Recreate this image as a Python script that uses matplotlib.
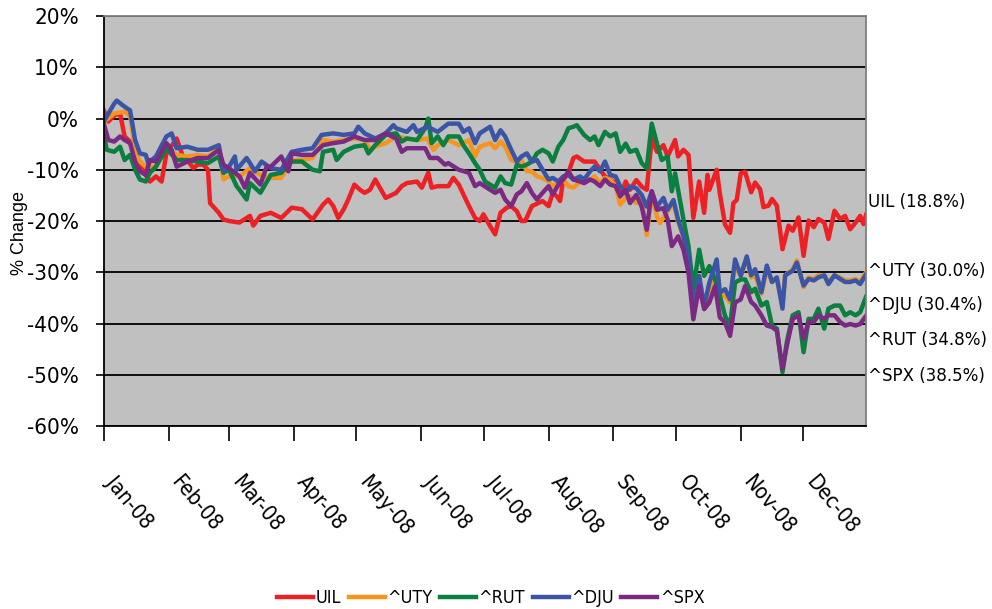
import numpy as np
import pandas as pd
import matplotlib
matplotlib.use("Agg")
import matplotlib.pyplot as plt
import matplotlib.dates as mdates
from matplotlib.font_manager import FontProperties
from matplotlib.transforms import ScaledTranslation

# condensed sans, close to the narrow face of the original
narrow = FontProperties(family='DejaVu Sans', stretch='condensed', size=15)
narrow_sm = FontProperties(family='DejaVu Sans', stretch='condensed', size=13.3)

# day offsets from 1 Jan 2008 and % change
days_uil = [0, 2.2, 5, 7.8, 10, 12.6, 15, 20.1, 22.1, 25, 27.7, 30, 34.9, 38.1, 40, 42.9, 45, 47.7, 49.9, 50.9,
            55.1, 57.3, 60, 65, 70, 71.6, 75, 80, 85, 90, 94.9, 100, 105, 107.5, 109.9, 112.3, 114.9, 117.1, 120,
            122.7, 124.9, 127.5, 130, 135, 140, 142.7, 145.1, 150, 152.3, 155.4, 157, 159.9, 165, 167.4, 170,
            174.9, 177.8, 180, 181.8, 185, 187.4, 190, 193, 195.1, 197.8, 200, 201.8, 205, 210.1, 213, 215, 217,
            218.5, 220, 222.5, 224.9, 226.5, 230, 235, 237.7, 240, 242.5, 245.1, 248.1, 249.9, 252, 255, 257.6,
            260, 262.4, 264.9, 268, 270, 273.6, 275, 277.6, 280, 282.3, 285.1, 287.5, 289.1, 290, 293.5, 295,
            297.5, 299.9, 301.5, 303.1, 305, 307.1, 310, 311.9, 314.3, 315.9, 318.3, 320, 322.3, 325, 327.9,
            329.9, 332.7, 335.1, 337.5, 340, 342.2, 345, 347, 349.9, 352.6, 355, 357.4, 360, 362.2, 363.8, 365]
uil = [1.6, -0.6, 0.6, 1.0, -3.5, -4.5, -7.4, -11.0, -12.3, -11.3, -12.3, -6.8, -3.9, -7.7, -8.1, -9.7, -9.0, -9.0,
       -10.0, -16.5, -18.4, -19.7, -20.0, -20.3, -19.0, -20.9, -19.0, -18.4, -19.4, -17.4, -17.7, -19.7, -16.8,
       -15.8, -17.1, -19.4, -17.7, -15.8, -12.9, -13.9, -14.5, -13.9, -11.9, -15.5, -14.5, -13.2, -12.6, -12.3,
       -13.5, -10.6, -13.5, -13.2, -13.2, -11.6, -12.9, -17.1, -19.4, -20.0, -18.7, -21.0, -22.6, -18.4, -17.4,
       -17.1, -18.1, -20.0, -20.0, -17.1, -16.1, -17.1, -14.5, -15.2, -16.1, -11.9, -10.6, -7.7, -7.4, -8.4,
       -8.4, -10.0, -11.3, -11.9, -12.6, -14.5, -12.3, -13.9, -12.0, -13.3, -13.9, -3.9, -6.5, -5.2, -7.4, -4.2,
       -7.4, -6.1, -7.1, -19.4, -12.3, -18.4, -11.0, -13.9, -10.0, -14.6, -20.7, -22.3, -16.5, -15.9, -10.7,
       -10.4, -14.4, -12.5, -13.8, -17.3, -17.0, -15.7, -17.0, -25.5, -20.9, -21.9, -19.3, -26.8, -19.9, -21.2,
       -19.6, -20.3, -23.5, -18.0, -19.6, -19.0, -21.6, -20.3, -19.0, -20.6, -18.8]

days_uty = [0, 3, 5, 10, 12.6, 15, 17.3, 20.1, 25, 30, 34.9, 40, 45, 49.9, 55.1, 57.3, 60, 65, 70, 75, 80, 85, 90,
            94.9, 100, 105, 109.9, 114.9, 120, 124.9, 127.5, 130, 135, 140, 145.1, 150, 155, 157.8, 159.9, 165,
            170, 174.9, 177.8, 180, 185, 187.4, 190, 192.2, 195.1, 197.8, 200, 202.6, 205, 207.4, 210.1, 213, 215,
            217.7, 220, 222.5, 224.9, 228.1, 230, 232.9, 235, 237.7, 240, 242.5, 245.1, 247.3, 249.9, 252, 255,
            257.6, 260, 262.4, 264.9, 266.4, 270, 272.8, 275, 277.6, 280, 282.3, 285.1, 287.5, 290, 293.5, 295,
            297.5, 299.9, 302.3, 305, 307.9, 310, 311.9, 314.9, 317.5, 320, 322.3, 325, 326.3, 329.9, 331.9,
            335.1, 337.5, 340, 342.2, 345, 347, 349.9, 352.6, 355, 357.4, 360, 362.2, 365]
uty = [-0.6, 0.3, 1.0, 1.3, 0.6, -6.1, -8.4, -9.4, -9.4, -5.5, -7.1, -7.4, -7.1, -7.4, -5.8, -11.9, -11.3, -11.3,
       -9.7, -11.0, -11.6, -11.6, -8.1, -8.1, -7.7, -4.2, -4.5, -4.2, -3.9, -4.2, -6.1, -5.5, -4.8, -3.5, -3.9,
       -4.2, -3.9, -6.1, -5.2, -4.2, -5.2, -4.2, -7.4, -5.5, -4.8, -5.8, -4.5, -5.5, -8.1, -8.4, -8.1, -10.3,
       -10.3, -11.3, -11.6, -12.3, -13.2, -12.6, -11.9, -13.2, -13.5, -12.3, -12.6, -11.9, -11.3, -12.6, -11.6,
       -11.9, -13.2, -16.8, -15.5, -15.2, -16.5, -15.5, -22.7, -14.9, -19.1, -20.4, -18.1, -16.5, -20.1, -23.3,
       -27.5, -37.2, -31.4, -36.6, -33.3, -28.8, -34.6, -34.6, -35.9, -28.8, -30.7, -27.5, -31.0, -30.6, -34.2,
       -29.4, -31.9, -31.3, -36.5, -30.6, -29.4, -27.7, -32.9, -31.0, -31.3, -30.6, -30.6, -31.9, -30.6, -31.0,
       -31.6, -31.6, -31.3, -31.9, -30.0]

days_rut = [0, 1.4, 5, 7.8, 10, 12.6, 15, 17.3, 20.1, 22.1, 25, 30, 34.9, 40, 45, 49.9, 55.1, 57.3, 60, 63.6, 65,
            68.4, 70, 75, 80, 85, 90, 94.9, 100, 103.5, 105, 109.9, 111.5, 114.9, 120, 124.9, 126.7, 130, 135,
            140, 142.7, 145.1, 150, 153.9, 155.4, 157, 159.9, 162.6, 165, 170, 172.2, 174.9, 177.8, 180, 182.6,
            185, 187.4, 190, 192.2, 195.1, 197.8, 200, 202.6, 205, 207.4, 210.1, 213, 215, 217.7, 220, 222.5,
            224.9, 226.5, 230, 232.9, 235, 236.9, 240, 242.5, 245.1, 247.3, 249.9, 252, 255, 257.6, 260, 262.4,
            264.9, 267.2, 270, 272, 273.6, 275, 277.6, 280, 282.3, 285.1, 287.5, 290, 292.7, 295, 297.5, 299.9,
            302.3, 305, 307.1, 310, 311.9, 314.9, 317.5, 320, 322.3, 325, 327.1, 329.9, 332.7, 335.1, 337.5, 340,
            342.2, 345, 347, 349.9, 352.6, 355, 357.4, 360, 362.2, 365]
rut = [-2.9, -6.1, -6.5, -5.5, -8.1, -7.1, -10.0, -11.9, -12.3, -10.6, -9.4, -5.8, -8.1, -8.1, -8.4, -8.7, -7.4,
       -10.6, -10.0, -13.2, -13.9, -15.8, -12.6, -14.5, -11.0, -10.6, -8.4, -8.4, -10.0, -10.3, -6.5, -6.1, -8.1,
       -6.5, -5.5, -5.2, -6.8, -5.2, -3.2, -2.9, -4.5, -3.9, -4.2, -1.9, 0.0, -4.8, -3.5, -5.2, -3.5, -3.5, -5.2,
       -6.8, -8.7, -10.0, -12.3, -12.9, -13.5, -11.3, -12.6, -12.9, -9.0, -9.4, -9.0, -8.4, -6.8, -6.1, -6.8,
       -8.4, -5.5, -4.2, -1.9, -1.6, -1.3, -3.2, -4.2, -3.5, -5.2, -2.6, -3.5, -2.9, -6.5, -4.9, -6.5, -6.1,
       -8.7, -9.7, -1.0, -4.9, -8.1, -7.4, -14.2, -10.7, -13.9, -19.7, -24.9, -33.3, -25.6, -30.7, -28.8, -31.4,
       -34.6, -38.5, -40.5, -32.0, -31.4, -31.4, -33.9, -33.2, -36.5, -35.8, -40.4, -41.0, -49.5, -43.6, -38.4,
       -37.8, -45.6, -39.1, -39.1, -37.1, -41.0, -37.1, -36.5, -36.5, -38.4, -37.8, -38.4, -37.8, -34.8]

days_dju = [0, 5, 6.2, 10, 12.6, 15, 17.3, 20.1, 21.3, 25, 30, 32.5, 34.9, 40, 45, 49.9, 55.1, 57.3, 60, 62.8,
            63.6, 68.4, 70, 72.4, 75.6, 80, 85, 90, 94.9, 100, 104.3, 109.9, 114.9, 120, 121.9, 124.9, 130, 135,
            138.7, 140, 145.1, 148.3, 150, 155, 159.9, 165, 170, 172.2, 174.9, 177.8, 180, 185, 187.4, 190,
            192.2, 195.1, 197.8, 200, 202.6, 205, 207.4, 210.1, 213, 215, 217.7, 220, 222.5, 224.9, 228.1, 230,
            232.9, 235, 237.7, 240, 242.5, 245.1, 247.3, 249.9, 252, 255, 257.6, 260, 262.4, 264.9, 268, 270,
            272.8, 275, 277.6, 280, 282.3, 285.1, 287.5, 290, 293.5, 295, 297.5, 299.9, 302.3, 305, 307.9, 310,
            311.9, 314.9, 317.5, 320, 322.3, 325, 326.3, 329.9, 331.9, 335.1, 337.5, 340, 342.2, 345, 347, 349.9,
            352.6, 355, 357.4, 360, 362.2, 365]
dju = [-0.6, 2.9, 3.5, 2.3, 1.6, -4.2, -6.8, -7.1, -8.7, -7.4, -3.5, -2.9, -5.8, -5.5, -6.1, -6.1, -5.2, -10.3,
       -9.4, -7.4, -10.0, -7.7, -8.7, -10.3, -8.4, -9.7, -10.0, -6.5, -6.1, -5.8, -3.2, -2.9, -3.2, -2.9, -1.6,
       -2.9, -3.9, -2.9, -1.3, -1.9, -2.6, -1.3, -2.6, -1.6, -2.6, -1.0, -1.0, -2.6, -1.9, -4.8, -2.9, -1.6, -4.2,
       -2.3, -3.5, -6.1, -8.4, -7.4, -6.8, -8.4, -8.1, -10.0, -11.9, -11.6, -12.3, -11.3, -11.0, -11.9, -11.3,
       -11.9, -10.3, -9.4, -10.3, -8.4, -11.0, -11.3, -13.2, -14.6, -13.3, -13.6, -14.9, -17.2, -14.2, -17.2,
       -15.5, -17.8, -15.9, -19.7, -23.0, -26.9, -37.2, -30.7, -36.6, -32.0, -27.5, -34.0, -33.3, -35.3, -27.5,
       -30.7, -26.9, -30.6, -29.4, -33.9, -28.7, -31.9, -31.0, -37.1, -30.6, -29.7, -28.1, -32.6, -31.3, -31.6,
       -31.0, -30.6, -32.3, -30.6, -31.3, -31.9, -31.9, -31.6, -32.3, -30.4]

days_spx = [0, 2.2, 5, 7.8, 10, 12.6, 15, 17.3, 20.1, 22.1, 25, 30, 32.5, 34.9, 40, 45, 49.9, 55.1, 57.3, 60, 65,
            67.6, 70, 75, 78, 80, 85, 88.4, 90, 94.9, 100, 105, 109.9, 114.9, 120, 124.9, 130, 135, 140, 142.7,
            145.1, 150, 153.9, 156.2, 159.9, 163.4, 165, 170, 174.9, 177.8, 180, 185, 187.4, 190, 192.2, 195.1,
            197.8, 200, 202.6, 205, 207.4, 210.1, 213, 215, 217.7, 220, 222.5, 224.9, 228.1, 230, 232.9, 235,
            237.7, 240, 242.5, 245.1, 247.3, 249.9, 252, 255, 257.6, 260, 262.4, 264.9, 268, 270, 272, 275, 277.6,
            280, 282.3, 285.1, 287.5, 290, 292.7, 295, 297.5, 299.9, 302.3, 305, 307.1, 310, 311.9, 314.9, 317.5,
            320, 322.3, 325, 327.1, 329.9, 332.7, 335.1, 337.5, 340, 342.2, 345, 347, 349.9, 352.6, 355, 357.4,
            360, 362.2, 365]
spx = [-1.0, -4.2, -4.5, -3.5, -4.2, -4.8, -8.4, -10.3, -11.0, -8.1, -8.4, -4.8, -6.1, -9.4, -8.4, -7.7, -7.7,
       -6.1, -9.0, -9.7, -11.3, -13.5, -10.6, -12.9, -9.4, -9.4, -7.4, -10.3, -6.8, -7.1, -7.1, -5.2, -4.8, -4.5,
       -3.5, -4.2, -4.2, -2.9, -3.9, -6.5, -5.8, -5.8, -5.8, -7.7, -7.7, -9.0, -8.7, -10.0, -10.6, -13.2, -12.6,
       -13.9, -14.5, -13.9, -15.8, -17.1, -14.8, -14.2, -12.6, -14.5, -15.8, -14.5, -13.2, -14.8, -12.9, -11.9,
       -10.3, -11.9, -12.3, -12.6, -11.9, -12.3, -13.2, -11.9, -12.9, -13.2, -15.2, -13.9, -16.5, -14.9, -17.2,
       -21.7, -14.2, -17.8, -17.5, -19.7, -24.9, -23.0, -25.6, -30.1, -39.2, -32.7, -37.2, -35.9, -32.7, -38.8,
       -39.8, -42.4, -35.9, -35.3, -32.7, -35.8, -36.5, -38.4, -40.4, -40.7, -41.4, -48.8, -44.3, -39.1, -38.4,
       -43.0, -39.7, -39.7, -38.4, -39.1, -38.4, -38.4, -39.7, -40.4, -40.1, -40.4, -40.1, -38.5]

names = ['UIL', '^UTY', '^RUT', '^DJU', '^SPX']
colors = ['#ED2024', '#F7941E', '#0A7F3F', '#3A55A6', '#7B2A83']
end_labels = ['UIL (18.8%)', '^UTY (30.0%)', '^DJU (30.4%)', '^RUT (34.8%)', '^SPX (38.5%)']
end_label_y = [-16.3, -29.7, -36.4, -43.2, -50.2]

start = pd.Timestamp('2008-01-01')


def to_dates(d):
    return start + pd.to_timedelta(np.array(d), unit='D')


series = [(days_uil, uil), (days_uty, uty), (days_rut, rut), (days_dju, dju), (days_spx, spx)]

fig = plt.figure(figsize=(9.92, 6.09), dpi=100)
ax = fig.add_axes([0.1046, 0.3005, 0.7684, 0.6732])
ax.set_facecolor('#C0C0C0')

for (d, v), name, c in zip(series, names, colors):
    ax.plot(to_dates(d), v, color=c, lw=3.2, label=name, solid_joinstyle='round')

ax.set_ylim(-60, 20)
ax.set_yticks(np.arange(-60, 21, 10))
ax.set_yticklabels(['%d%%' % t for t in np.arange(-60, 21, 10)], fontproperties=narrow)
for lab in ax.get_yticklabels():
    lab.set_fontsize(16)
ax.yaxis.grid(True, color='black', lw=1.3)
ax.set_axisbelow(True)

ax.set_xlim(start, pd.Timestamp('2008-12-31'))
ax.xaxis.set_major_locator(mdates.MonthLocator())
ax.xaxis.set_major_formatter(mdates.DateFormatter('%b-%y'))
ax.tick_params(axis='x', length=11, width=1.2, pad=22)
ax.tick_params(axis='y', length=6, width=1.2, pad=12)
for lab in ax.get_xticklabels():
    lab.set_fontproperties(narrow)
    lab.set_fontsize(15.5)
    lab.set_rotation(-50)
    lab.set_ha('left')
    lab.set_va('top')
    lab.set_rotation_mode('anchor')
    lab.set_transform(lab.get_transform() + ScaledTranslation(0.14, 0, fig.dpi_scale_trans))

for s in ['left', 'bottom']:
    ax.spines[s].set_color('black')
    ax.spines[s].set_linewidth(1.3)
for s in ['top', 'right']:
    ax.spines[s].set_color('#7F7F7F')
    ax.spines[s].set_linewidth(1.3)

for txt, yv in zip(end_labels, end_label_y):
    ax.text(1.003, (yv + 60) / 80, txt, transform=ax.transAxes, fontproperties=narrow_sm,
            va='center', ha='left', clip_on=False)

fig.text(20 / 992, 1 - 233 / 609, '% Change', rotation=90, va='center', ha='center',
         family='Liberation Sans', fontsize=13)

fig.legend(loc='center', bbox_to_anchor=(491 / 992, 1 - 598 / 609), ncol=5, frameon=False,
           prop=FontProperties(family='DejaVu Sans', stretch='condensed', size=13),
           handlelength=2.0, handletextpad=0.15, columnspacing=0.4)

fig.savefig('out.png', dpi=100)
